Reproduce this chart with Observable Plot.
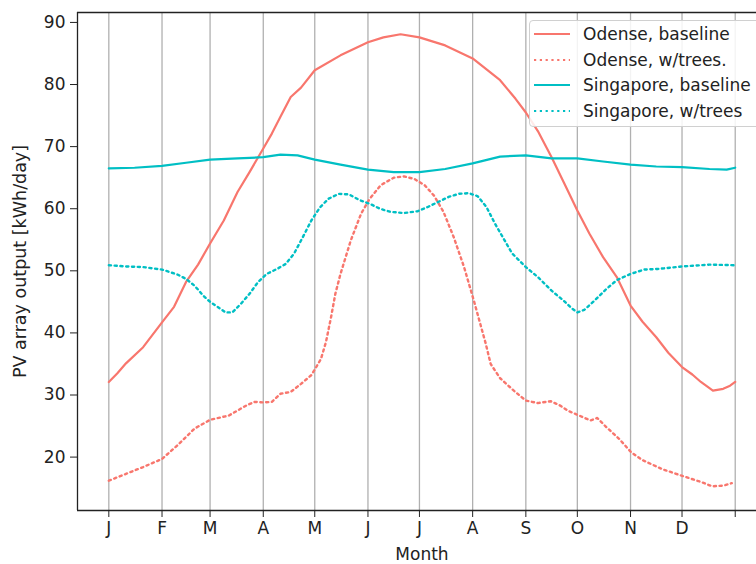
<!DOCTYPE html>
<html>
<head>
<meta charset="utf-8">
<script src="https://cdn.jsdelivr.net/npm/d3@7"></script>
<script src="https://cdn.jsdelivr.net/npm/@observablehq/plot@0.6"></script>
<style>
  html, body { margin: 0; padding: 0; background: #fff; }
  #wrap { position: relative; width: 756px; height: 564px; overflow: hidden; font-family: "DejaVu Sans", sans-serif; }
  #legend { position: absolute; left: 529px; top: 20px; width: 240px; height: 107px; border: 1px solid #d0d0d0; border-radius: 4px; background: rgba(255,255,255,0.85); box-sizing: border-box; }
  .row { position: absolute; left: 0; height: 26px; display: flex; align-items: center; font-size: 17px; color: #222; white-space: nowrap; }
  .row svg { margin-left: 3px; margin-right: 12px; }
</style>
</head>
<body>
<div id="wrap"></div>
<script>
// ---- data (day of year, kWh/day) ----
const monthDays = [0, 31, 59, 90, 120, 151, 181, 212, 243, 273, 304, 334, 365];
const monthLabels = ["J", "F", "M", "A", "M", "J", "J", "A", "S", "O", "N", "D", ""];
const yTicks = [20, 30, 40, 50, 60, 70, 80, 90];

const seriesNames = ["Odense, baseline", "Odense, w/trees.", "Singapore, baseline", "Singapore, w/trees"];
const seriesColors = ["#F8766D", "#F8766D", "#00BFC4", "#00BFC4"];
const seriesDotted = [false, true, false, true];

const odenseBaseline = [[0,32.1],[5,33.5],[10,35.1],[20,37.7],[31,41.7],[38,44.2],[45,48.2],[52,51.0],[59,54.4],[67,58.1],[75,62.7],[82,65.9],[90,69.7],[95,72.1],[100,74.8],[106,78.0],[112,79.5],[120,82.3],[135,84.7],[151,86.8],[160,87.6],[170,88.1],[181,87.6],[196,86.3],[212,84.2],[228,80.7],[237,77.7],[243,75.5],[250,72.5],[258,68.3],[265,64.3],[273,59.7],[280,56.0],[288,52.2],[296,49.0],[304,44.4],[311,41.8],[319,39.3],[326,36.8],[334,34.5],[340,33.3],[345,32.1],[352,30.7],[358,31.0],[362,31.5],[365,32.1]];
const odenseTrees = [[0,16.2],[10,17.3],[20,18.4],[31,19.7],[40,21.9],[50,24.6],[59,26.0],[70,26.7],[80,28.3],[85,28.9],[90,28.8],[95,28.9],[100,30.2],[106,30.5],[112,31.8],[118,33.2],[120,34.1],[123.6,35.8],[126.5,38.5],[129.4,42.4],[132,46.3],[135,49.5],[141,54.9],[147,59.2],[152,61.6],[158.5,63.8],[166,65.0],[172,65.2],[178,64.8],[184,63.8],[189.5,62.1],[195,59.5],[201,55.4],[207,50.6],[212.8,45.1],[216.7,41.2],[219.6,38.3],[222.5,35.0],[228,32.7],[236,30.7],[243,29.1],[250,28.7],[257.5,29.0],[263,28.3],[268,27.4],[274,26.7],[280.6,25.9],[284.6,26.3],[290,24.8],[297.5,22.9],[304.3,20.8],[311,19.5],[323,18.0],[335,16.9],[345,16.0],[351.6,15.3],[358,15.4],[363,15.8]];
const singaporeBaseline = [[0,66.5],[15,66.6],[31,66.9],[45,67.4],[59,67.9],[75,68.1],[90,68.3],[100,68.7],[110,68.6],[120,67.9],[135,67.1],[151,66.3],[166,65.9],[181,65.9],[196,66.4],[212,67.3],[228,68.4],[243,68.6],[258,68.1],[273,68.1],[288,67.6],[304,67.1],[319,66.8],[334,66.7],[350,66.4],[360,66.3],[365,66.6]];
const singaporeTrees = [[0,50.9],[10,50.7],[20,50.6],[31,50.2],[40,49.4],[45,48.7],[50,47.6],[55,46.0],[59,45.0],[65,43.9],[68,43.3],[72,43.3],[77,44.7],[82,46.3],[87,48.2],[92,49.5],[98,50.3],[103,51.1],[108,52.8],[113,55.4],[118,58.1],[123,60.2],[128,61.6],[134,62.4],[140,62.3],[146,61.4],[152,60.8],[158,60.0],[164,59.5],[172,59.3],[180,59.6],[186,60.3],[192,61.1],[198,61.9],[204,62.4],[210,62.5],[215,62.0],[220,60.3],[225,57.6],[230,55.2],[235,52.8],[243,50.6],[250,49.0],[258,46.8],[265,45.2],[270,43.9],[273,43.3],[277,43.7],[283,45.2],[290,47.1],[296,48.5],[304,49.5],[312,50.2],[320,50.3],[334,50.7],[350,51.0],[365,50.9]];

const allSeries = [odenseBaseline, odenseTrees, singaporeBaseline, singaporeTrees];

// ---- scales ----
const xDomain = [-18.25, 377.4];
const yDomain = [11.4, 91.6];
const labelMap = new Map(monthDays.map((d, i) => [d, monthLabels[i]]));
const DOT = "2.2,3.6";

const lineMarks = allSeries.map((s, i) => Plot.line(s, {
  x: d => d[0], y: d => d[1],
  stroke: seriesColors[i], strokeWidth: seriesDotted[i] ? 2.4 : 2.2,
  strokeDasharray: seriesDotted[i] ? DOT : null
}));

const chart = Plot.plot({
  width: 756, height: 564,
  marginLeft: 77, marginRight: 0, marginTop: 12, marginBottom: 54,
  style: { fontFamily: "DejaVu Sans, sans-serif", fontSize: "17px", color: "#222", background: "white", overflow: "visible" },
  x: { domain: xDomain },
  y: { domain: yDomain },
  marks: [
    Plot.ruleX(monthDays, { stroke: "#b0b0b0", strokeWidth: 1.3 }),
    ...lineMarks,
    Plot.ruleX([xDomain[0]], { stroke: "#222", strokeWidth: 1.3 }),
    Plot.ruleY([yDomain[0], yDomain[1]], { stroke: "#222", strokeWidth: 1.3 }),
    Plot.axisX(monthDays, { tickFormat: d => labelMap.get(d), tickSize: 7, tickPadding: 4, fontSize: 17, label: null, stroke: "#222" }),
    Plot.axisY(yTicks, { tickSize: 7, tickPadding: 5, fontSize: 17, label: null, stroke: "#222" }),
    Plot.text(["PV array output [kWh/day]"], { frameAnchor: "left", dx: -57, rotate: -90, textAnchor: "middle", lineAnchor: "middle", fontSize: 17.5, fill: "#222" }),
    Plot.text(["Month"], { frameAnchor: "bottom", dx: 5, dy: 44, textAnchor: "middle", lineAnchor: "middle", fontSize: 17, fill: "#222" })
  ]
});

const wrap = document.getElementById("wrap");
wrap.appendChild(chart);

// legend overlay
const legend = document.createElement("div");
legend.id = "legend";
seriesNames.forEach((name, i) => {
  const row = document.createElement("div");
  row.className = "row";
  row.style.top = (i * 25.6) + "px";
  row.innerHTML = `<svg width="38" height="6"><line x1="1" x2="37" y1="3" y2="3" stroke="${seriesColors[i]}" stroke-width="2.2" ${seriesDotted[i] ? `stroke-dasharray="${DOT}"` : ""}/></svg><span>${name}</span>`;
  legend.appendChild(row);
});
wrap.appendChild(legend);
</script>
</body>
</html>
